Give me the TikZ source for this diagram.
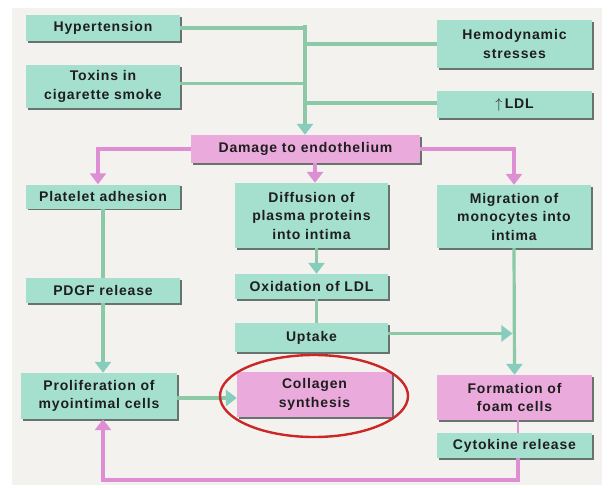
\documentclass[tikz,border=0pt]{standalone}
\usepackage{fontspec}
\newfontfamily\boxfont[LetterSpace=6]{Liberation Sans}
\usetikzlibrary{arrows.meta,shadows,shapes.geometric}
\definecolor{panel}{HTML}{F3F2EF}
\definecolor{mint}{HTML}{A5E0CF}
\definecolor{rose}{HTML}{EAAADC}
\definecolor{gline}{HTML}{8CC9A6}
\definecolor{gtipc}{HTML}{86CDBE}
\definecolor{pline}{HTML}{DE8ED2}
\definecolor{ring}{HTML}{CC2626}
\definecolor{shade}{HTML}{4F5D58}
\definecolor{ink}{HTML}{1E1E1E}
\tikzset{
  box/.style={fill=mint, draw=none,
    drop shadow={shadow xshift=1.6pt, shadow yshift=-1.8pt, fill=shade, opacity=0.85},
    align=center, font=\boxfont\bfseries\fontsize{14}{18.5}\selectfont,
    text=ink, inner sep=0pt},
  pbox/.style={box, fill=rose},
  gl/.style={draw=gline, line width=3.2pt},
  pl/.style={draw=pline, line width=3.2pt},
  gtip/.style={-{Triangle[width=16pt,length=11pt,color=gtipc]}},
  ptip/.style={-{Triangle[width=16pt,length=11pt,color=pline]}},
}
\begin{document}
\begin{tikzpicture}[x=1pt,y=-1pt]
\useasboundingbox (0,0) rectangle (612,487);
\fill[white] (0,0) rectangle (612,487);
\fill[panel] (12,8) rectangle (602,485);

% nodes
\node[box, minimum width=154pt, minimum height=26pt] (hyp) at (103,28) {Hypertension};
\node[box, minimum width=154pt, minimum height=43pt] (tox) at (103,86.5) {Toxins in\\cigarette smoke};
\node[box, minimum width=155pt, minimum height=48pt] (hemo) at (514.5,44) {Hemodynamic\\stresses};
\node[box, minimum width=155pt, minimum height=27pt] (ldl) at (514.5,104.5) {$\uparrow$\,LDL};
\node[pbox, minimum width=229pt, minimum height=28pt] (dam) at (305.5,149) {Damage to endothelium};
\node[box, minimum width=154pt, minimum height=24pt] (plat) at (103,196.5) {Platelet adhesion};
\node[box, minimum width=153pt, minimum height=65pt] (diff) at (311.5,215.5) {Diffusion of\\plasma proteins\\into intima};
\node[box, minimum width=154pt, minimum height=63pt] (mig) at (514,216.5) {Migration of\\monocytes into\\intima};
\node[box, minimum width=154pt, minimum height=25pt] (pdgf) at (103,290.5) {PDGF release};
\node[box, minimum width=153pt, minimum height=25pt] (oxi) at (311.5,286.5) {Oxidation of LDL};
\node[box, minimum width=153pt, minimum height=29pt] (upt) at (311.5,337.5) {Uptake};
\node[box, minimum width=156pt, minimum height=46pt] (prol) at (99,396) {Proliferation of\\myointimal cells};
\node[pbox, minimum width=155pt, minimum height=45pt] (coll) at (314.5,394.5) {Collagen\\synthesis};
\node[pbox, minimum width=155pt, minimum height=45pt] (foam) at (514.5,397.5) {Formation of\\foam cells};
\node[box, minimum width=155pt, minimum height=25pt] (cyto) at (514.5,445.5) {Cytokine release};

% green connectors into damage
\coordinate (top) at (305,25);
\draw[gl, line width=4.5pt] (hyp.east) -- (hyp.east -| top);
\draw[gl] ([yshift=3pt]tox.east) -- ([yshift=3pt]tox.east -| top);
\draw[gl] (hemo.west) -- (hemo.west -| top);
\draw[gl] ([yshift=1.5pt]ldl.west) -- ([yshift=1.5pt]ldl.west -| top);
\draw[gl, gtip] (top) -- (top |- dam.north);

% pink branches
\draw[pl, ptip] (dam.west) -| ([xshift=-5pt]plat.north);
\draw[pl, ptip] (dam.east) -| (mig.north);
\draw[pl, ptip] ([xshift=3.5pt]diff.north |- dam.south) -- ([xshift=3.5pt]diff.north);

% green flows
\draw[gl] (plat.south) -- (pdgf.north);
\draw[gl, gtip] (pdgf.south) -- (pdgf.south |- prol.north);
\draw[gl, gtip] ([xshift=5pt]diff.south) -- ([xshift=5pt]diff.south |- oxi.north);
\draw[gl] ([xshift=5pt]oxi.south) -- ([xshift=5pt]oxi.south |- upt.north);
\draw[gl, gtip, shorten >=1.6pt] ([yshift=4pt]upt.east) -- ([yshift=4pt]upt.east -| mig.south);
\draw[gl, gtip] (mig.south) -- (foam.north);
\draw[gl, gtip] ([yshift=-2pt]prol.east) -- ([yshift=-2pt]prol.east -| coll.west);

% feedback loop
\draw[pl, line width=2.2pt] ([xshift=3.5pt]foam.south) -- ([xshift=3.5pt]cyto.north);
\coordinate (low) at (0,480);
\draw[pl, ptip] ([xshift=3.5pt]cyto.south) -- ([xshift=3.5pt]cyto.south |- low) -| ([xshift=4pt]prol.south);

% highlight ring
\node[draw=ring, line width=2.4pt, ellipse, minimum width=188pt, minimum height=82pt, inner sep=0pt] (hl) at (314,396) {};
\end{tikzpicture}
\end{document}
